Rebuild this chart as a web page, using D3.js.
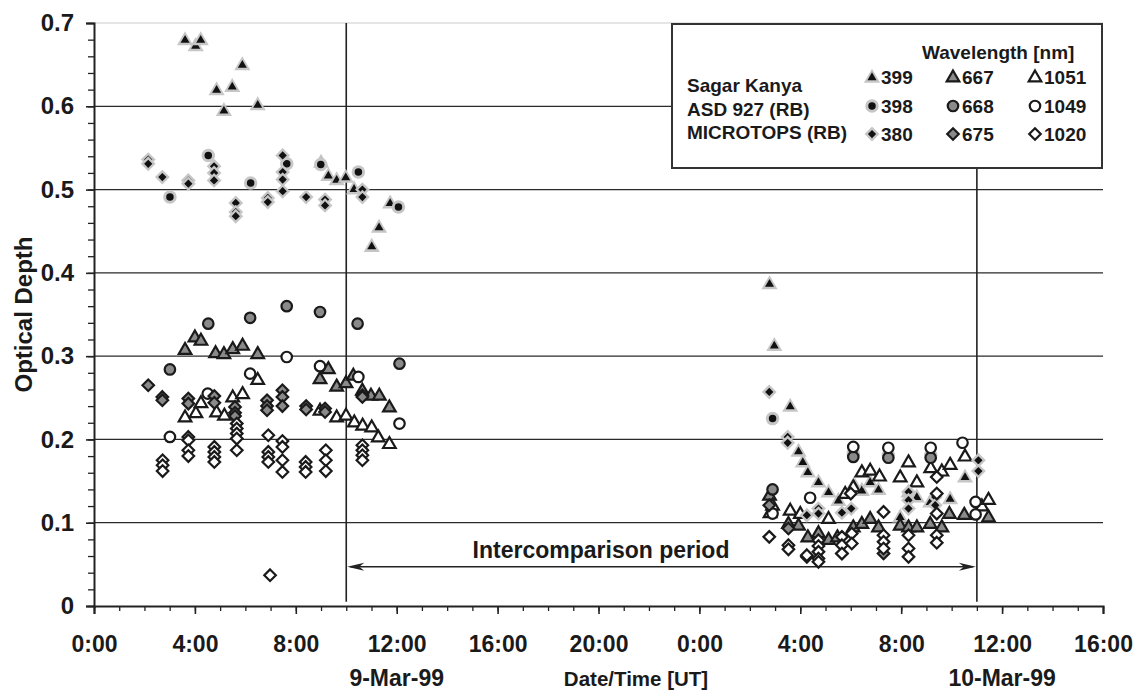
<!DOCTYPE html>
<html>
<head>
<meta charset="utf-8">
<script src="https://cdn.jsdelivr.net/npm/d3@7"></script>
<style>
  html, body { margin: 0; padding: 0; background: #fff; }
  svg { display: block; font-family: "Liberation Sans", Arial, sans-serif; font-weight: bold; }
</style>
</head>
<body>
<svg id="chart" width="1135" height="690"></svg>
<script>
// hours counted from 0:00 UT on 9-Mar-99, optical depth
const sk399 = [[3.61,0.680],[4.03,0.673],[4.23,0.680],[4.86,0.620],[5.15,0.595],[5.48,0.624],[5.88,0.650],[6.49,0.602],[9.00,0.533],[9.29,0.517],[9.62,0.512],[9.98,0.515],[10.31,0.501],[11.01,0.432],[11.30,0.455],[11.74,0.484],
  [26.78,0.387],[26.97,0.313],[27.60,0.240],[27.93,0.186],[28.10,0.173],[28.30,0.161],[28.72,0.149],[29.12,0.137],[29.51,0.127],[30.13,0.146],[30.44,0.139],[30.77,0.149],[31.10,0.140],[31.96,0.107],[32.29,0.137],[32.62,0.131],[33.15,0.125],[33.94,0.129],[34.53,0.155]];
const sk667 = [[3.61,0.308],[4.00,0.323],[4.24,0.319],[4.82,0.304],[5.15,0.303],[5.50,0.309],[5.89,0.313],[6.49,0.303],[8.96,0.273],[9.29,0.285],[9.62,0.264],[9.99,0.268],[10.28,0.277],[10.64,0.259],[10.98,0.253],[11.31,0.253],[11.71,0.239],
  [26.78,0.133],[27.53,0.099],[27.93,0.097],[28.30,0.083],[28.72,0.088],[29.12,0.080],[29.47,0.083],[30.10,0.095],[30.44,0.099],[30.77,0.105],[31.10,0.095],[31.96,0.097],[32.29,0.095],[32.62,0.095],[33.15,0.099],[33.61,0.095],[33.91,0.111],[34.50,0.110],[35.46,0.107]];
const sk1051 = [[3.61,0.227],[4.04,0.232],[4.24,0.244],[4.86,0.233],[5.17,0.229],[5.50,0.251],[5.89,0.255],[6.49,0.272],[8.96,0.235],[9.62,0.227],[9.99,0.229],[10.32,0.221],[10.65,0.217],[11.01,0.215],[11.27,0.203],[11.71,0.195],
  [26.80,0.112],[26.90,0.121],[27.60,0.115],[28.00,0.111],[29.12,0.105],[29.78,0.135],[30.10,0.143],[30.44,0.161],[30.77,0.163],[31.14,0.156],[31.96,0.155],[32.29,0.173],[32.62,0.149],[33.17,0.166],[33.61,0.162],[33.94,0.170],[34.53,0.180],[35.20,0.120],[35.46,0.128]];
const asd398 = [[3.01,0.491],[4.53,0.541],[6.21,0.508],[7.64,0.531],[8.99,0.530],[10.48,0.521],[12.07,0.479],
  [26.90,0.225],[30.10,0.183],[31.49,0.181],[33.17,0.181]];
const asd668 = [[3.01,0.284],[4.53,0.339],[6.19,0.346],[7.64,0.360],[8.96,0.353],[10.45,0.339],[12.11,0.291],
  [26.90,0.140],[30.10,0.179],[31.49,0.178],[33.17,0.178]];
const asd1049 = [[3.01,0.203],[4.51,0.255],[6.19,0.279],[7.64,0.299],[8.96,0.288],[10.48,0.275],[12.11,0.219],
  [26.90,0.111],[28.39,0.130],[30.10,0.191],[31.49,0.190],[33.17,0.190],[34.43,0.196],[34.95,0.125],[34.95,0.110]];
const mt380 = [[2.15,0.536],[2.15,0.531],[2.71,0.515],[3.74,0.511],[3.74,0.507],[4.76,0.528],[4.76,0.520],[4.76,0.511],[5.62,0.484],[5.62,0.473],[5.62,0.468],[6.89,0.490],[6.89,0.485],[7.48,0.541],[7.48,0.521],[7.48,0.512],[7.48,0.498],[8.41,0.491],[9.16,0.488],[9.16,0.481],[10.64,0.500],[10.64,0.491],
  [26.77,0.257],[27.50,0.203],[27.50,0.196],[28.26,0.109],[28.72,0.117],[28.72,0.111],[29.65,0.112],[30.02,0.117],[32.29,0.137],[32.29,0.127],[32.29,0.117],[33.35,0.131],[33.35,0.121],[35.06,0.175],[35.06,0.162]];
const mt675 = [[2.15,0.265],[2.71,0.251],[2.71,0.247],[3.74,0.249],[3.74,0.243],[4.77,0.252],[4.77,0.244],[5.59,0.239],[5.59,0.232],[5.59,0.228],[6.86,0.247],[6.86,0.240],[6.86,0.235],[7.47,0.259],[7.47,0.251],[7.47,0.240],[8.41,0.240],[8.41,0.236],[9.16,0.237],[9.16,0.233],[10.64,0.253],[10.64,0.251],
  [26.77,0.121],[27.53,0.093],[28.26,0.059],[29.65,0.063],[31.30,0.063]];
const mt1020 = [[2.72,0.175],[2.72,0.169],[2.72,0.162],[3.74,0.203],[3.74,0.199],[3.74,0.187],[3.74,0.180],[4.77,0.191],[4.77,0.185],[4.77,0.179],[4.77,0.173],[5.66,0.219],[5.66,0.213],[5.66,0.207],[5.66,0.201],[5.66,0.187],[6.91,0.205],[6.91,0.185],[6.91,0.179],[6.91,0.173],[6.98,0.037],[7.47,0.198],[7.47,0.191],[7.47,0.175],[7.47,0.161],[8.39,0.173],[8.39,0.167],[8.39,0.161],[9.19,0.187],[9.19,0.175],[9.19,0.162],[10.64,0.193],[10.64,0.187],[10.64,0.181],[10.64,0.175],
  [26.77,0.083],[27.53,0.073],[27.53,0.068],[28.26,0.061],[28.72,0.079],[28.72,0.072],[28.72,0.065],[28.72,0.057],[28.72,0.053],[29.65,0.083],[29.65,0.073],[29.65,0.063],[30.04,0.087],[30.04,0.075],[30.00,0.135],[31.30,0.113],[31.30,0.085],[31.30,0.077],[31.30,0.069],[32.29,0.085],[32.29,0.069],[32.29,0.059],[33.41,0.155],[33.41,0.135],[33.41,0.111],[33.41,0.085],[33.41,0.076]];

const instruments = ["Sagar Kanya", "ASD 927 (RB)", "MICROTOPS (RB)"];
const wavelengths = [["399", "667", "1051"], ["398", "668", "1049"], ["380", "675", "1020"]];
const seriesData = [[sk399, sk667, sk1051], [asd398, asd668, asd1049], [mt380, mt675, mt1020]];

const xTickHours = d3.range(0, 41, 4);
const dateLabels = [[12, "9-Mar-99"], [36, "10-Mar-99"]];
const periodHours = [10, 35];
const periodArrowValue = 0.047;
const yTicks = d3.range(0, 0.71, 0.1);

const svg = d3.select("#chart");
const x = d3.scaleLinear().domain([0, 40]).range([94, 1103]);
const y = d3.scaleLinear().domain([0, 0.7]).range([606, 23]);

// symbol shapes, by instrument
const shapes = [
  (s) => `M0,${-s * 0.62}L${s * 0.6},${s * 0.42}L${-s * 0.6},${s * 0.42}Z`,
  (s) => { const r = s * 0.5; return `M${r},0A${r},${r} 0 1,1 ${-r},0A${r},${r} 0 1,1 ${r},0Z`; },
  (s) => { const r = s * 0.55; return `M0,${-r}L${r},0L0,${r}L${-r},0Z`; },
];
// styles, by wavelength band; halo = light grey backing shape
const styles = [
  { fill: "#111", stroke: "none", sw: 0, size: 7.5, halo: 13.5 },
  { fill: "#8a8a8a", stroke: "#1a1a1a", sw: 2.2, size: 10.5 },
  { fill: "#fff", stroke: "#1a1a1a", sw: 2.2, size: 10.5 },
];

function drawMarker(sel, gi, st) {
  if (st.halo) {
    sel.append("path").attr("d", shapes[gi](st.halo)).attr("fill", "#c6c6c6");
  }
  sel.append("path").attr("d", shapes[gi](st.size))
    .attr("fill", st.fill).attr("stroke", st.stroke).attr("stroke-width", st.sw);
}

// gridlines
svg.append("line")
  .attr("x1", x(0)).attr("x2", x(40)).attr("y1", y(0.7)).attr("y2", y(0.7))
  .attr("stroke", "#ddd").attr("stroke-width", 1.5);
svg.append("g").selectAll("line").data(yTicks.slice(1, 7)).join("line")
  .attr("x1", x(0)).attr("x2", x(40))
  .attr("y1", (d) => y(d)).attr("y2", (d) => y(d))
  .attr("stroke", "#2a2a2a").attr("stroke-width", 1.2);

// period markers
svg.append("line")
  .attr("x1", x(periodHours[0])).attr("x2", x(periodHours[0]))
  .attr("y1", y(0.7)).attr("y2", y(0.005))
  .attr("stroke", "#222").attr("stroke-width", 1.6);
svg.append("line")
  .attr("x1", x(periodHours[1])).attr("x2", x(periodHours[1]))
  .attr("y1", 168).attr("y2", y(0.005))
  .attr("stroke", "#222").attr("stroke-width", 1.6);

// axes
const yAxisMinor = d3.axisLeft(y).tickValues(d3.range(0, 0.701, 0.02)).tickSize(6).tickFormat("");
svg.append("g").attr("transform", `translate(${x(0)},0)`).call(yAxisMinor)
  .call((g) => g.select(".domain").remove())
  .selectAll("line").attr("stroke", "#222").attr("stroke-width", 1.3);
const yAxis = d3.axisLeft(y).tickValues(yTicks).tickSize(8).tickPadding(12)
  .tickFormat((d) => (d === 0 ? "0" : d3.format(".1f")(d)));
const yg = svg.append("g").attr("transform", `translate(${x(0)},0)`).call(yAxis);
yg.select(".domain").attr("stroke", "#222").attr("stroke-width", 2);
yg.selectAll(".tick line").attr("stroke", "#222").attr("stroke-width", 1.6);
yg.selectAll("text").attr("font-size", 24).attr("font-family", "Liberation Sans, Arial, sans-serif")
  .attr("font-weight", "bold").attr("fill", "#1a1a1a");

const xAxisMinor = d3.axisBottom(x).tickValues(d3.range(0, 41, 1)).tickSize(5).tickFormat("");
svg.append("g").attr("transform", `translate(0,${y(0)})`).call(xAxisMinor)
  .call((g) => g.select(".domain").remove())
  .selectAll("line").attr("stroke", "#222").attr("stroke-width", 1.3);
const xAxis = d3.axisBottom(x).tickValues(xTickHours).tickSize(8).tickPadding(22)
  .tickFormat((d) => `${d % 24}:00`);
const xg = svg.append("g").attr("transform", `translate(0,${y(0)})`).call(xAxis);
xg.select(".domain").attr("stroke", "#222").attr("stroke-width", 2);
xg.selectAll(".tick line").attr("stroke", "#222").attr("stroke-width", 1.6);
xg.selectAll("text").attr("font-size", 23).attr("font-family", "Liberation Sans, Arial, sans-serif")
  .attr("font-weight", "bold").attr("fill", "#1a1a1a");

svg.append("g").selectAll("text").data(dateLabels).join("text")
  .attr("x", (d) => x(d[0])).attr("y", 686)
  .attr("text-anchor", "middle").attr("font-size", 23).attr("fill", "#1a1a1a")
  .text((d) => d[1]);
svg.append("text").attr("x", 636).attr("y", 686).attr("text-anchor", "middle")
  .attr("font-size", 20.5).attr("fill", "#1a1a1a").text("Date/Time [UT]");
svg.append("text").attr("transform", `translate(32,${y(0.35)}) rotate(-90)`)
  .attr("text-anchor", "middle").attr("font-size", 24).attr("fill", "#1a1a1a").text("Optical Depth");

// intercomparison arrow
const arrowHead = "M0,0L-17,-4L-12,0L-17,4Z";
const ay = y(periodArrowValue);
svg.append("line").attr("x1", x(periodHours[0]) + 4).attr("x2", x(periodHours[1]) - 4)
  .attr("y1", ay).attr("y2", ay).attr("stroke", "#222").attr("stroke-width", 1.5);
svg.append("path").attr("d", arrowHead).attr("fill", "#222")
  .attr("transform", `translate(${x(periodHours[1]) - 1},${ay})`);
svg.append("path").attr("d", arrowHead).attr("fill", "#222")
  .attr("transform", `translate(${x(periodHours[0]) + 1},${ay}) rotate(180)`);
svg.append("text").attr("x", x(20.1)).attr("y", 558).attr("text-anchor", "middle")
  .attr("font-size", 23).attr("fill", "#1a1a1a").text("Intercomparison period");

// data points
seriesData.forEach((group, gi) => {
  group.forEach((pts, si) => {
    const st = styles[si];
    svg.append("g").selectAll("g").data(pts).join("g")
      .attr("transform", (d) => `translate(${x(d[0])},${y(d[1])})`)
      .each(function () { drawMarker(d3.select(this), gi, st); });
  });
});

// legend
const lg = svg.append("g");
lg.append("rect").attr("x", 672).attr("y", 24).attr("width", 430).attr("height", 144)
  .attr("fill", "#fff").attr("stroke", "#333").attr("stroke-width", 2);
lg.append("text").attr("x", 922).attr("y", 59).attr("font-size", 19).attr("fill", "#1a1a1a").text("Wavelength [nm]");
const labelY = [92, 116, 139];
const rowY = [77, 106, 134];
const colX = [872, 953, 1035];
instruments.forEach((name, gi) => {
  lg.append("text").attr("x", 687).attr("y", labelY[gi]).attr("font-size", 19).attr("fill", "#1a1a1a").text(name);
  wavelengths[gi].forEach((w, si) => {
    const st = styles[si];
    drawMarker(lg.append("g").attr("transform", `translate(${colX[si]},${rowY[gi]})`), gi, st);
    lg.append("text").attr("x", colX[si] + 9).attr("y", rowY[gi] + 7)
      .attr("font-size", 19).attr("fill", "#1a1a1a").text(w);
  });
});
</script>
</body>
</html>
